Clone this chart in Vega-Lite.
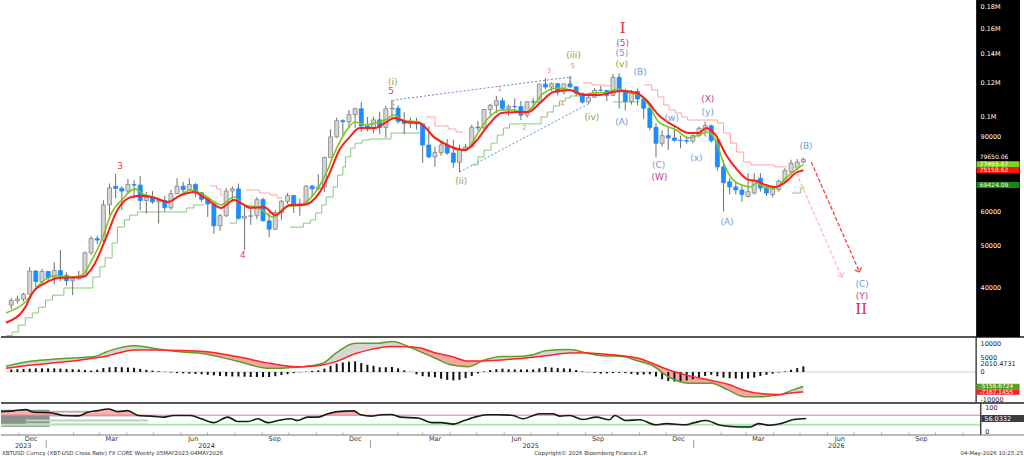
{
  "$schema": "https://vega.github.io/schema/vega-lite/v6.json",
  "padding": {"left": -3, "top": 0, "right": 0, "bottom": 0},
  "background": "white",
  "bounds": "flush",
  "spacing": 0,
  "config": {
    "view": {"stroke": null},
    "font": "DejaVu Sans",
    "axis": {"disable": true},
    "legend": {"disable": true}
  },
  "datasets": {
    "bars": [
      {"d":"2023-11-17","o":36500,"h":37900,"l":35700,"c":37400},
      {"d":"2023-11-24","o":37400,"h":38400,"l":36800,"c":37700},
      {"d":"2023-12-01","o":37700,"h":39000,"l":37200,"c":38700},
      {"d":"2023-12-08","o":38700,"h":44700,"l":38600,"c":43800},
      {"d":"2023-12-15","o":43800,"h":44000,"l":40200,"c":41400},
      {"d":"2023-12-22","o":41400,"h":44300,"l":40500,"c":43700},
      {"d":"2023-12-29","o":43700,"h":43800,"l":41500,"c":42200},
      {"d":"2024-01-05","o":42200,"h":45900,"l":40800,"c":43900},
      {"d":"2024-01-12","o":43900,"h":49000,"l":41500,"c":42800},
      {"d":"2024-01-19","o":42800,"h":43500,"l":40500,"c":41600},
      {"d":"2024-01-26","o":41600,"h":42200,"l":38500,"c":42000},
      {"d":"2024-02-02","o":42000,"h":43850,"l":41800,"c":42600},
      {"d":"2024-02-09","o":42600,"h":48600,"l":42250,"c":48300},
      {"d":"2024-02-16","o":48300,"h":52800,"l":47700,"c":52100},
      {"d":"2024-02-23","o":52100,"h":52900,"l":50600,"c":51700},
      {"d":"2024-03-01","o":51700,"h":64000,"l":50900,"c":62400},
      {"d":"2024-03-08","o":62400,"h":70000,"l":59000,"c":68400},
      {"d":"2024-03-15","o":68900,"h":73750,"l":64600,"c":68200},
      {"d":"2024-03-22","o":68200,"h":68900,"l":60800,"c":67200},
      {"d":"2024-03-29","o":67200,"h":71700,"l":66500,"c":69600},
      {"d":"2024-04-05","o":69600,"h":71300,"l":64500,"c":69400},
      {"d":"2024-04-12","o":69400,"h":72800,"l":60700,"c":63900},
      {"d":"2024-04-19","o":63900,"h":66900,"l":59600,"c":64900},
      {"d":"2024-04-26","o":64900,"h":67200,"l":62800,"c":63400},
      {"d":"2024-05-03","o":63400,"h":64500,"l":56500,"c":63900},
      {"d":"2024-05-10","o":63900,"h":65500,"l":60200,"c":61500},
      {"d":"2024-05-17","o":61500,"h":67700,"l":60700,"c":66300},
      {"d":"2024-05-24","o":66300,"h":71950,"l":66100,"c":69000},
      {"d":"2024-05-31","o":69000,"h":70600,"l":66600,"c":67700},
      {"d":"2024-06-07","o":67700,"h":71950,"l":67500,"c":69600},
      {"d":"2024-06-14","o":69600,"h":70200,"l":65100,"c":66600},
      {"d":"2024-06-21","o":66600,"h":66900,"l":63400,"c":64300},
      {"d":"2024-06-28","o":64300,"h":64500,"l":58500,"c":62700},
      {"d":"2024-07-05","o":62700,"h":63800,"l":53500,"c":55800},
      {"d":"2024-07-12","o":55800,"h":59500,"l":54300,"c":58900},
      {"d":"2024-07-19","o":58900,"h":68400,"l":58500,"c":67200},
      {"d":"2024-07-26","o":67200,"h":68900,"l":63500,"c":68000},
      {"d":"2024-08-02","o":68000,"h":70000,"l":57700,"c":58100},
      {"d":"2024-08-09","o":58100,"h":62700,"l":49000,"c":58700},
      {"d":"2024-08-16","o":58700,"h":61800,"l":56100,"c":58900},
      {"d":"2024-08-23","o":58900,"h":65000,"l":57800,"c":64200},
      {"d":"2024-08-30","o":64200,"h":64900,"l":57200,"c":57300},
      {"d":"2024-09-06","o":57300,"h":59800,"l":52500,"c":54800},
      {"d":"2024-09-13","o":54800,"h":60600,"l":54600,"c":59900},
      {"d":"2024-09-20","o":59900,"h":64100,"l":57500,"c":63600},
      {"d":"2024-09-27","o":63600,"h":66500,"l":62700,"c":65600},
      {"d":"2024-10-04","o":65600,"h":65600,"l":59800,"c":62100},
      {"d":"2024-10-11","o":62100,"h":64500,"l":58900,"c":62900},
      {"d":"2024-10-18","o":62900,"h":69400,"l":62400,"c":69000},
      {"d":"2024-10-25","o":69000,"h":69500,"l":65100,"c":68000},
      {"d":"2024-11-01","o":68000,"h":73600,"l":67500,"c":68700},
      {"d":"2024-11-08","o":68700,"h":80800,"l":66800,"c":80400},
      {"d":"2024-11-15","o":80400,"h":93500,"l":80300,"c":89800},
      {"d":"2024-11-22","o":89800,"h":99600,"l":89400,"c":98000},
      {"d":"2024-11-29","o":98000,"h":98700,"l":90800,"c":97400},
      {"d":"2024-12-06","o":97400,"h":103700,"l":94000,"c":101200},
      {"d":"2024-12-13","o":101200,"h":105000,"l":94200,"c":104400},
      {"d":"2024-12-20","o":104400,"h":108300,"l":92200,"c":95200},
      {"d":"2024-12-27","o":95200,"h":99900,"l":92500,"c":93700},
      {"d":"2025-01-03","o":93700,"h":99900,"l":91600,"c":98400},
      {"d":"2025-01-10","o":98400,"h":102700,"l":91200,"c":94500},
      {"d":"2025-01-17","o":94500,"h":106000,"l":89300,"c":104400},
      {"d":"2025-01-24","o":104400,"h":109600,"l":99500,"c":104700},
      {"d":"2025-01-31","o":104700,"h":106400,"l":96500,"c":97600},
      {"d":"2025-02-07","o":97600,"h":102500,"l":91200,"c":96500},
      {"d":"2025-02-14","o":96500,"h":99500,"l":94100,"c":97500},
      {"d":"2025-02-21","o":97500,"h":99500,"l":93400,"c":96300},
      {"d":"2025-02-28","o":96300,"h":96500,"l":78200,"c":86000},
      {"d":"2025-03-07","o":86000,"h":95000,"l":80000,"c":80700},
      {"d":"2025-03-14","o":80700,"h":85300,"l":76600,"c":82600},
      {"d":"2025-03-21","o":82600,"h":87500,"l":81200,"c":86000},
      {"d":"2025-03-28","o":86000,"h":88800,"l":81600,"c":82400},
      {"d":"2025-04-04","o":82400,"h":88500,"l":76200,"c":78400},
      {"d":"2025-04-11","o":78400,"h":86100,"l":74400,"c":83700},
      {"d":"2025-04-18","o":83700,"h":86500,"l":83000,"c":85100},
      {"d":"2025-04-25","o":85100,"h":95800,"l":85000,"c":94600},
      {"d":"2025-05-02","o":94600,"h":97900,"l":92800,"c":94300},
      {"d":"2025-05-09","o":94300,"h":104300,"l":93400,"c":104000},
      {"d":"2025-05-16","o":104000,"h":107100,"l":100700,"c":106400},
      {"d":"2025-05-23","o":106400,"h":111900,"l":102000,"c":109000},
      {"d":"2025-05-30","o":109000,"h":110700,"l":103100,"c":104600},
      {"d":"2025-06-06","o":104600,"h":106800,"l":100400,"c":105700},
      {"d":"2025-06-13","o":105700,"h":110500,"l":102700,"c":105600},
      {"d":"2025-06-20","o":105600,"h":108900,"l":98300,"c":100900},
      {"d":"2025-06-27","o":100900,"h":108500,"l":99600,"c":108400},
      {"d":"2025-07-04","o":108400,"h":110500,"l":105100,"c":108200},
      {"d":"2025-07-11","o":108200,"h":119500,"l":107500,"c":119100},
      {"d":"2025-07-18","o":119100,"h":123200,"l":115800,"c":117300},
      {"d":"2025-07-25","o":117300,"h":120200,"l":114700,"c":119400},
      {"d":"2025-08-01","o":119400,"h":119800,"l":112000,"c":114200},
      {"d":"2025-08-08","o":114200,"h":119300,"l":112700,"c":119300},
      {"d":"2025-08-15","o":119300,"h":124500,"l":116800,"c":117400},
      {"d":"2025-08-22","o":117400,"h":117600,"l":111700,"c":113500},
      {"d":"2025-08-29","o":113500,"h":113600,"l":107300,"c":108200},
      {"d":"2025-09-05","o":108200,"h":113300,"l":107300,"c":111100},
      {"d":"2025-09-12","o":111100,"h":116700,"l":110600,"c":115300},
      {"d":"2025-09-19","o":115300,"h":118000,"l":114500,"c":115200},
      {"d":"2025-09-26","o":115200,"h":115400,"l":108700,"c":112200},
      {"d":"2025-10-03","o":112200,"h":125700,"l":111700,"c":123500},
      {"d":"2025-10-10","o":123500,"h":126200,"l":104500,"c":115000},
      {"d":"2025-10-17","o":115000,"h":116000,"l":103500,"c":108600},
      {"d":"2025-10-24","o":108600,"h":115500,"l":106700,"c":114500},
      {"d":"2025-10-31","o":114500,"h":116400,"l":106300,"c":110000},
      {"d":"2025-11-07","o":110000,"h":110600,"l":98900,"c":104700},
      {"d":"2025-11-14","o":104700,"h":107500,"l":93000,"c":94500},
      {"d":"2025-11-21","o":94500,"h":96600,"l":80600,"c":86800},
      {"d":"2025-11-28","o":86800,"h":93000,"l":85300,"c":90400},
      {"d":"2025-12-05","o":90400,"h":94200,"l":83800,"c":89300},
      {"d":"2025-12-12","o":89300,"h":94600,"l":87500,"c":88200},
      {"d":"2025-12-19","o":88200,"h":90400,"l":84500,"c":88100},
      {"d":"2025-12-26","o":88100,"h":90000,"l":86500,"c":87800},
      {"d":"2026-01-02","o":87800,"h":91000,"l":86800,"c":90500},
      {"d":"2026-01-09","o":90500,"h":95000,"l":89500,"c":94000},
      {"d":"2026-01-16","o":93000,"h":97500,"l":90000,"c":95500},
      {"d":"2026-01-23","o":95300,"h":96000,"l":87000,"c":88000},
      {"d":"2026-01-30","o":88000,"h":90000,"l":75000,"c":76500},
      {"d":"2026-02-06","o":76500,"h":79000,"l":60300,"c":70300},
      {"d":"2026-02-13","o":70600,"h":72000,"l":66000,"c":68700},
      {"d":"2026-02-20","o":68700,"h":70500,"l":66000,"c":67600},
      {"d":"2026-02-27","o":67600,"h":69500,"l":63500,"c":66000},
      {"d":"2026-03-06","o":65300,"h":74000,"l":65000,"c":67000},
      {"d":"2026-03-13","o":66500,"h":74000,"l":66000,"c":71300},
      {"d":"2026-03-20","o":72000,"h":74000,"l":67000,"c":68300},
      {"d":"2026-03-27","o":68300,"h":69500,"l":65500,"c":66500},
      {"d":"2026-04-03","o":66000,"h":69000,"l":65000,"c":68000},
      {"d":"2026-04-10","o":67800,"h":71500,"l":67000,"c":70800},
      {"d":"2026-04-17","o":70800,"h":76000,"l":70000,"c":75000},
      {"d":"2026-04-24","o":74500,"h":79500,"l":73500,"c":78000},
      {"d":"2026-05-01","o":76000,"h":79800,"l":75000,"c":78500},
      {"d":"2026-05-08","o":78500,"h":80500,"l":78000,"c":79650}
    ],
    "ma": [
      {"d":"2023-11-11","v":35000,"k":"f"},{"d":"2023-12-03","v":37100,"k":"f"},{"d":"2023-12-18","v":40600,"k":"f"},
      {"d":"2024-01-06","v":42700,"k":"f"},{"d":"2024-01-26","v":42400,"k":"f"},{"d":"2024-02-06","v":42900,"k":"f"},
      {"d":"2024-02-17","v":46500,"k":"f"},{"d":"2024-02-28","v":51700,"k":"f"},{"d":"2024-03-11","v":60100,"k":"f"},
      {"d":"2024-03-22","v":64100,"k":"f"},{"d":"2024-04-06","v":68000,"k":"f"},{"d":"2024-04-17","v":65800,"k":"f"},
      {"d":"2024-04-28","v":65100,"k":"f"},{"d":"2024-05-13","v":63400,"k":"f"},{"d":"2024-05-24","v":65100,"k":"f"},
      {"d":"2024-06-09","v":67600,"k":"f"},{"d":"2024-06-24","v":65800,"k":"f"},{"d":"2024-07-13","v":62400,"k":"f"},
      {"d":"2024-07-28","v":65100,"k":"f"},{"d":"2024-08-08","v":62400,"k":"f"},{"d":"2024-08-23","v":61700,"k":"f"},
      {"d":"2024-09-11","v":58500,"k":"f"},{"d":"2024-09-25","v":61700,"k":"f"},{"d":"2024-10-11","v":62400,"k":"f"},
      {"d":"2024-10-29","v":66900,"k":"f"},{"d":"2024-11-10","v":74000,"k":"f"},{"d":"2024-11-21","v":83700,"k":"f"},
      {"d":"2024-12-02","v":92200,"k":"f"},{"d":"2024-12-13","v":97300,"k":"f"},{"d":"2024-12-25","v":95700,"k":"f"},
      {"d":"2025-01-05","v":96800,"k":"f"},{"d":"2025-01-16","v":98300,"k":"f"},{"d":"2025-01-26","v":101000,"k":"f"},
      {"d":"2025-02-06","v":98000,"k":"f"},{"d":"2025-02-24","v":97300,"k":"f"},{"d":"2025-03-11","v":90700,"k":"f"},
      {"d":"2025-03-25","v":86900,"k":"f"},{"d":"2025-04-10","v":83700,"k":"f"},{"d":"2025-04-21","v":84600,"k":"f"},
      {"d":"2025-05-02","v":91700,"k":"f"},{"d":"2025-05-14","v":99400,"k":"f"},{"d":"2025-05-29","v":103700,"k":"f"},
      {"d":"2025-06-12","v":103700,"k":"f"},{"d":"2025-06-24","v":102100,"k":"f"},{"d":"2025-07-05","v":106500,"k":"f"},
      {"d":"2025-07-16","v":113600,"k":"f"},{"d":"2025-08-01","v":116700,"k":"f"},{"d":"2025-08-15","v":115500,"k":"f"},
      {"d":"2025-08-27","v":112400,"k":"f"},{"d":"2025-09-10","v":113600,"k":"f"},{"d":"2025-09-26","v":113900,"k":"f"},
      {"d":"2025-10-09","v":116000,"k":"f"},{"d":"2025-10-22","v":113600,"k":"f"},{"d":"2025-11-02","v":112400,"k":"f"},
      {"d":"2025-11-13","v":106500,"k":"f"},{"d":"2025-11-24","v":97300,"k":"f"},{"d":"2025-12-14","v":93200,"k":"f"},
      {"d":"2025-12-28","v":89300,"k":"f"},{"d":"2026-01-09","v":90700,"k":"f"},{"d":"2026-01-18","v":92200,"k":"f"},
      {"d":"2026-01-28","v":88300,"k":"f"},{"d":"2026-02-06","v":78100,"k":"f"},{"d":"2026-02-15","v":72100,"k":"f"},
      {"d":"2026-02-27","v":69400,"k":"f"},{"d":"2026-03-09","v":68700,"k":"f"},{"d":"2026-03-16","v":70200,"k":"f"},
      {"d":"2026-03-27","v":68300,"k":"f"},{"d":"2026-04-06","v":68300,"k":"f"},{"d":"2026-04-18","v":72100,"k":"f"},
      {"d":"2026-04-29","v":75200,"k":"f"},{"d":"2026-05-08","v":77500,"k":"f"},
      {"d":"2023-11-11","v":33200,"k":"s"},{"d":"2023-12-03","v":36100,"k":"s"},{"d":"2023-12-11","v":38900,"k":"s"},
      {"d":"2023-12-26","v":41100,"k":"s"},{"d":"2024-01-10","v":42200,"k":"s"},{"d":"2024-02-06","v":42400,"k":"s"},
      {"d":"2024-02-20","v":45500,"k":"s"},{"d":"2024-03-03","v":51700,"k":"s"},{"d":"2024-03-17","v":60700,"k":"s"},
      {"d":"2024-04-02","v":65100,"k":"s"},{"d":"2024-04-14","v":65500,"k":"s"},{"d":"2024-04-28","v":64800,"k":"s"},
      {"d":"2024-05-13","v":63400,"k":"s"},{"d":"2024-05-29","v":65800,"k":"s"},{"d":"2024-06-12","v":66900,"k":"s"},
      {"d":"2024-06-26","v":64600,"k":"s"},{"d":"2024-07-13","v":61400,"k":"s"},{"d":"2024-07-28","v":64100,"k":"s"},
      {"d":"2024-08-16","v":61400,"k":"s"},{"d":"2024-08-31","v":61700,"k":"s"},{"d":"2024-09-13","v":59100,"k":"s"},
      {"d":"2024-09-30","v":62400,"k":"s"},{"d":"2024-10-15","v":62400,"k":"s"},{"d":"2024-11-03","v":66900,"k":"s"},
      {"d":"2024-11-14","v":74000,"k":"s"},{"d":"2024-11-25","v":83700,"k":"s"},{"d":"2024-12-07","v":89800,"k":"s"},
      {"d":"2024-12-18","v":94200,"k":"s"},{"d":"2025-01-05","v":94200,"k":"s"},{"d":"2025-01-16","v":96800,"k":"s"},
      {"d":"2025-01-27","v":99400,"k":"s"},{"d":"2025-02-10","v":97300,"k":"s"},{"d":"2025-02-24","v":96800,"k":"s"},
      {"d":"2025-03-14","v":89300,"k":"s"},{"d":"2025-04-02","v":85100,"k":"s"},{"d":"2025-04-17","v":83700,"k":"s"},
      {"d":"2025-04-28","v":86900,"k":"s"},{"d":"2025-05-14","v":95700,"k":"s"},{"d":"2025-05-29","v":102100,"k":"s"},
      {"d":"2025-06-17","v":102600,"k":"s"},{"d":"2025-06-28","v":102600,"k":"s"},{"d":"2025-07-13","v":108300,"k":"s"},
      {"d":"2025-07-27","v":114200,"k":"s"},{"d":"2025-08-15","v":115500,"k":"s"},{"d":"2025-08-30","v":112400,"k":"s"},
      {"d":"2025-09-18","v":112400,"k":"s"},{"d":"2025-10-03","v":114200,"k":"s"},{"d":"2025-10-14","v":114800,"k":"s"},
      {"d":"2025-10-30","v":113600,"k":"s"},{"d":"2025-11-10","v":109400,"k":"s"},{"d":"2025-11-24","v":101000,"k":"s"},
      {"d":"2025-12-14","v":94700,"k":"s"},{"d":"2025-12-28","v":91700,"k":"s"},{"d":"2026-01-09","v":91700,"k":"s"},
      {"d":"2026-01-17","v":94200,"k":"s"},{"d":"2026-01-28","v":90700,"k":"s"},{"d":"2026-02-09","v":81500,"k":"s"},
      {"d":"2026-02-20","v":76000,"k":"s"},{"d":"2026-03-07","v":71300,"k":"s"},{"d":"2026-03-16","v":70900,"k":"s"},
      {"d":"2026-03-26","v":69400,"k":"s"},{"d":"2026-04-06","v":68700,"k":"s"},{"d":"2026-04-18","v":70600,"k":"s"},
      {"d":"2026-04-29","v":74000,"k":"s"},{"d":"2026-05-08","v":75160,"k":"s"}
    ],
    "steps": [
      {"d":"2023-11-11","v":31000,"s":"g1","k":"g"},{"d":"2023-11-18","v":31600,"s":"g1","k":"g"},{"d":"2023-11-25","v":32800,"s":"g1","k":"g"},
      {"d":"2023-12-03","v":34100,"s":"g1","k":"g"},{"d":"2023-12-11","v":35000,"s":"g1","k":"g"},{"d":"2023-12-18","v":36100,"s":"g1","k":"g"},
      {"d":"2023-12-26","v":37500,"s":"g1","k":"g"},{"d":"2024-01-03","v":38500,"s":"g1","k":"g"},{"d":"2024-01-16","v":40000,"s":"g1","k":"g"},
      {"d":"2024-02-18","v":42400,"s":"g1","k":"g"},{"d":"2024-02-26","v":44800,"s":"g1","k":"g"},{"d":"2024-03-03","v":47000,"s":"g1","k":"g"},
      {"d":"2024-03-11","v":50900,"s":"g1","k":"g"},{"d":"2024-03-17","v":55400,"s":"g1","k":"g"},{"d":"2024-03-25","v":57600,"s":"g1","k":"g"},
      {"d":"2024-03-31","v":59100,"s":"g1","k":"g"},{"d":"2024-04-09","v":60100,"s":"g1","k":"g"},{"d":"2024-06-04","v":61400,"s":"g1","k":"g"},
      {"d":"2024-06-12","v":62400,"s":"g1","k":"g"},{"d":"2024-06-24","v":62400,"s":"g1","k":"g"},
      {"d":"2024-07-23","v":56600,"s":"g2","k":"g"},{"d":"2024-07-31","v":58500,"s":"g2","k":"g"},{"d":"2024-08-08","v":58500,"s":"g2","k":"g"},
      {"d":"2024-09-30","v":55400,"s":"g3","k":"g"},{"d":"2024-10-15","v":56600,"s":"g3","k":"g"},{"d":"2024-10-23","v":57600,"s":"g3","k":"g"},
      {"d":"2024-10-29","v":59800,"s":"g3","k":"g"},{"d":"2024-11-05","v":62400,"s":"g3","k":"g"},{"d":"2024-11-10","v":65100,"s":"g3","k":"g"},
      {"d":"2024-11-18","v":68700,"s":"g3","k":"g"},{"d":"2024-11-23","v":73200,"s":"g3","k":"g"},{"d":"2024-11-29","v":76500,"s":"g3","k":"g"},
      {"d":"2024-12-02","v":80700,"s":"g3","k":"g"},{"d":"2024-12-08","v":84600,"s":"g3","k":"g"},{"d":"2024-12-13","v":86900,"s":"g3","k":"g"},
      {"d":"2024-12-21","v":88300,"s":"g3","k":"g"},{"d":"2024-12-29","v":88800,"s":"g3","k":"g"},{"d":"2025-01-23","v":91700,"s":"g3","k":"g"},
      {"d":"2025-03-02","v":91700,"s":"g3","k":"g"},
      {"d":"2025-04-25","v":77300,"s":"g4","k":"g"},{"d":"2025-05-02","v":80700,"s":"g4","k":"g"},{"d":"2025-05-09","v":83700,"s":"g4","k":"g"},
      {"d":"2025-05-17","v":86900,"s":"g4","k":"g"},{"d":"2025-05-24","v":90700,"s":"g4","k":"g"},{"d":"2025-05-31","v":94200,"s":"g4","k":"g"},
      {"d":"2025-06-07","v":96300,"s":"g4","k":"g"},{"d":"2025-07-13","v":99900,"s":"g4","k":"g"},{"d":"2025-07-20","v":102600,"s":"g4","k":"g"},
      {"d":"2025-07-27","v":106000,"s":"g4","k":"g"},{"d":"2025-08-03","v":108900,"s":"g4","k":"g"},{"d":"2025-08-10","v":110600,"s":"g4","k":"g"},
      {"d":"2025-08-15","v":111800,"s":"g4","k":"g"},{"d":"2025-08-27","v":111800,"s":"g4","k":"g"},
      {"d":"2025-10-03","v":108300,"s":"g5","k":"g"},{"d":"2025-11-02","v":108300,"s":"g5","k":"g"},
      {"d":"2026-04-25","v":66500,"s":"g6","k":"g"},{"d":"2026-05-05","v":68300,"s":"g6","k":"g"},{"d":"2026-05-10","v":68300,"s":"g6","k":"g"},
      {"d":"2024-06-30","v":69100,"s":"p1","k":"p"},{"d":"2024-07-08","v":68000,"s":"p1","k":"p"},{"d":"2024-07-13","v":65800,"s":"p1","k":"p"},
      {"d":"2024-07-15","v":65800,"s":"p1","k":"p"},
      {"d":"2024-08-11","v":67600,"s":"p2","k":"p"},{"d":"2024-08-26","v":66500,"s":"p2","k":"p"},{"d":"2024-09-07","v":65800,"s":"p2","k":"p"},
      {"d":"2024-09-15","v":64800,"s":"p2","k":"p"},{"d":"2024-09-21","v":64800,"s":"p2","k":"p"},
      {"d":"2025-03-04","v":99900,"s":"p3","k":"p"},{"d":"2025-03-14","v":95200,"s":"p3","k":"p"},{"d":"2025-03-29","v":93700,"s":"p3","k":"p"},
      {"d":"2025-04-07","v":92200,"s":"p3","k":"p"},{"d":"2025-04-15","v":92200,"s":"p3","k":"p"},
      {"d":"2025-08-30","v":119900,"s":"p4","k":"p"},{"d":"2025-09-09","v":118600,"s":"p4","k":"p"},{"d":"2025-09-22","v":118000,"s":"p4","k":"p"},
      {"d":"2025-10-03","v":118000,"s":"p4","k":"p"},
      {"d":"2025-11-08","v":118600,"s":"p5","k":"p"},{"d":"2025-11-16","v":115500,"s":"p5","k":"p"},{"d":"2025-11-23","v":111200,"s":"p5","k":"p"},
      {"d":"2025-11-30","v":106500,"s":"p5","k":"p"},{"d":"2025-12-06","v":103700,"s":"p5","k":"p"},{"d":"2025-12-13","v":102100,"s":"p5","k":"p"},
      {"d":"2025-12-20","v":99900,"s":"p5","k":"p"},{"d":"2025-12-27","v":98300,"s":"p5","k":"p"},{"d":"2026-01-30","v":96800,"s":"p5","k":"p"},
      {"d":"2026-02-06","v":91700,"s":"p5","k":"p"},{"d":"2026-02-14","v":86900,"s":"p5","k":"p"},{"d":"2026-02-21","v":82800,"s":"p5","k":"p"},
      {"d":"2026-03-01","v":78500,"s":"p5","k":"p"},{"d":"2026-03-09","v":77300,"s":"p5","k":"p"},{"d":"2026-04-05","v":76500,"s":"p5","k":"p"},
      {"d":"2026-04-19","v":76500,"s":"p5","k":"p"}
    ],
    "trend": [
      {"d":"2025-01-26","v":104000,"s":"u","i":1},{"d":"2025-01-26","v":109400,"s":"u","i":2},
      {"d":"2025-08-16","v":123800,"s":"u","i":3},{"d":"2025-08-16","v":117200,"s":"u","i":4},
      {"d":"2025-04-11","v":74400,"s":"l","i":1},{"d":"2025-09-07","v":107700,"s":"l","i":2}
    ],
    "proj": [
      {"d":"2026-05-17","v":78500,"s":"r"},{"d":"2026-07-11","v":43600,"s":"r"},
      {"d":"2026-04-30","v":74000,"s":"p"},{"d":"2026-06-21","v":42400,"s":"p"}
    ],
    "heads": [
      {"d":"2026-07-11","v":43600,"s":"r"},{"d":"2026-06-21","v":42400,"s":"p"}
    ],
    "waves": [
      {"d":"2024-03-20","v":76900,"t":"3","c":"r"},
      {"d":"2024-08-07","v":47700,"t":"4","c":"r"},
      {"d":"2025-01-23","v":114800,"t":"5","c":"r"},
      {"d":"2025-01-25","v":120500,"t":"(i)","c":"g"},
      {"d":"2025-04-13","v":70900,"t":"(ii)","c":"g"},
      {"d":"2025-05-27","v":116100,"t":"1","c":"p"},
      {"d":"2025-06-24","v":94200,"t":"2","c":"p"},
      {"d":"2025-07-22","v":127800,"t":"3","c":"p"},
      {"d":"2025-08-06","v":107100,"t":"4","c":"p"},
      {"d":"2025-08-18","v":131300,"t":"5","c":"p"},
      {"d":"2025-08-19","v":139200,"t":"(iii)","c":"g"},
      {"d":"2025-09-09","v":99900,"t":"(iv)","c":"g"},
      {"d":"2025-10-13","v":132700,"t":"(v)","c":"g"},
      {"d":"2025-10-13","v":140700,"t":"(5)","c":"b"},
      {"d":"2025-10-14","v":148500,"t":"(5)","c":"m"},
      {"d":"2025-10-14","v":160900,"t":"I","c":"big"},
      {"d":"2025-10-13","v":97300,"t":"(A)","c":"b"},
      {"d":"2025-11-03","v":127100,"t":"(B)","c":"b"},
      {"d":"2025-11-24","v":77300,"t":"(C)","c":"b"},
      {"d":"2025-11-25","v":72500,"t":"(W)","c":"m"},
      {"d":"2025-12-09","v":99400,"t":"(w)","c":"b"},
      {"d":"2026-01-06","v":80200,"t":"(x)","c":"b"},
      {"d":"2026-01-19","v":102600,"t":"(y)","c":"b"},
      {"d":"2026-01-19","v":110000,"t":"(X)","c":"m"},
      {"d":"2026-02-10","v":57000,"t":"(A)","c":"b"},
      {"d":"2026-05-11","v":85500,"t":"(B)","c":"b"},
      {"d":"2026-07-14","v":40800,"t":"(C)","c":"b"},
      {"d":"2026-07-14","v":38400,"t":"(Y)","c":"m"},
      {"d":"2026-07-13","v":35700,"t":"II","c":"big"}
    ],
    "ticksMain": [
      {"v":180000,"t":"0.18M"},{"v":160000,"t":"0.16M"},{"v":140000,"t":"0.14M"},{"v":120000,"t":"0.12M"},
      {"v":100000,"t":"0.1M"},{"v":90000,"t":"90000"},{"v":60000,"t":"60000"},{"v":50000,"t":"50000"},{"v":40000,"t":"40000"}
    ],
    "tagsMain": [
      {"v":77495.67,"t":"77495.67","k":"fast"},
      {"v":75158.62,"t":"75158.62","k":"slow"},
      {"v":69424.09,"t":"69424.09","k":"stop"}
    ],
    "macd": [
      {"d":"2023-11-11","m":2100,"s":1300,"g":"p1","f":"p"},{"d":"2023-12-11","m":3900,"s":2500,"g":"p1","f":"p"},
      {"d":"2024-01-06","m":4600,"s":3300,"g":"p1","f":"p"},{"d":"2024-01-26","m":5000,"s":3900,"g":"p1","f":"p"},
      {"d":"2024-02-20","m":5500,"s":5000,"g":"p1","f":"p"},{"d":"2024-03-03","m":7000,"s":5500,"g":"p1","f":"p"},
      {"d":"2024-03-11","m":7900,"s":6200,"g":"p1","f":"p"},{"d":"2024-04-06","m":9400,"s":7900,"g":"p1","f":"p"},
      {"d":"2024-05-02","m":8200,"s":7900,"g":"p1","f":"p"},{"d":"2024-05-12","m":7800,"s":7800,"g":"p1","f":"p"},
      {"d":"2024-05-12","m":7800,"s":7800,"g":"n1","f":"n"},{"d":"2024-05-24","m":7300,"s":7700,"g":"n1","f":"n"},
      {"d":"2024-06-24","m":6500,"s":7300,"g":"n1","f":"n"},{"d":"2024-07-31","m":3900,"s":5500,"g":"n1","f":"n"},
      {"d":"2024-09-07","m":1300,"s":3100,"g":"n1","f":"n"},{"d":"2024-10-03","m":1600,"s":2000,"g":"n1","f":"n"},
      {"d":"2024-10-15","m":1900,"s":1900,"g":"n1","f":"n"},
      {"d":"2024-10-15","m":1900,"s":1900,"g":"p2","f":"p"},{"d":"2024-11-06","m":3100,"s":2500,"g":"p2","f":"p"},
      {"d":"2024-11-21","m":6700,"s":3700,"g":"p2","f":"p"},{"d":"2024-12-13","m":10300,"s":6500,"g":"p2","f":"p"},
      {"d":"2024-12-29","m":10300,"s":7900,"g":"p2","f":"p"},{"d":"2025-01-09","m":10300,"s":8600,"g":"p2","f":"p"},
      {"d":"2025-01-24","m":10900,"s":9100,"g":"p2","f":"p"},{"d":"2025-02-12","m":9050,"s":9050,"g":"p2","f":"p"},
      {"d":"2025-02-12","m":9050,"s":9050,"g":"n2","f":"n"},{"d":"2025-02-27","m":7000,"s":8500,"g":"n2","f":"n"},
      {"d":"2025-03-14","m":5000,"s":6900,"g":"n2","f":"n"},{"d":"2025-04-02","m":2500,"s":5500,"g":"n2","f":"n"},
      {"d":"2025-04-21","m":1900,"s":3900,"g":"n2","f":"n"},{"d":"2025-05-06","m":3900,"s":3900,"g":"n2","f":"n"},
      {"d":"2025-05-06","m":3900,"s":3900,"g":"p3","f":"p"},{"d":"2025-05-29","m":5500,"s":4300,"g":"p3","f":"p"},
      {"d":"2025-06-11","m":5500,"s":4600,"g":"p3","f":"p"},{"d":"2025-07-04","m":6200,"s":5300,"g":"p3","f":"p"},
      {"d":"2025-07-18","m":7600,"s":5800,"g":"p3","f":"p"},{"d":"2025-08-14","m":8000,"s":6800,"g":"p3","f":"p"},
      {"d":"2025-09-01","m":6900,"s":6900,"g":"p3","f":"p"},
      {"d":"2025-09-01","m":6900,"s":6900,"g":"n3","f":"n"},{"d":"2025-09-18","m":5900,"s":6500,"g":"n3","f":"n"},
      {"d":"2025-10-14","m":5500,"s":5800,"g":"n3","f":"n"},{"d":"2025-11-01","m":3900,"s":4900,"g":"n3","f":"n"},
      {"d":"2025-11-16","m":2500,"s":3200,"g":"n3","f":"n"},{"d":"2025-12-05","m":-1700,"s":800,"g":"n3","f":"n"},
      {"d":"2025-12-28","m":-4000,"s":-1300,"g":"n3","f":"n"},{"d":"2026-01-23","m":-4000,"s":-3000,"g":"n3","f":"n"},
      {"d":"2026-02-11","m":-6400,"s":-4400,"g":"n3","f":"n"},{"d":"2026-03-01","m":-8800,"s":-6500,"g":"n3","f":"n"},
      {"d":"2026-03-23","m":-8800,"s":-7800,"g":"n3","f":"n"},{"d":"2026-04-09","m":-8200,"s":-8000,"g":"n3","f":"n"},
      {"d":"2026-04-13","m":-8000,"s":-8000,"g":"n3","f":"n"},
      {"d":"2026-04-13","m":-8000,"s":-8000,"g":"p4","f":"p"},{"d":"2026-04-27","m":-6300,"s":-7400,"g":"p4","f":"p"},
      {"d":"2026-05-08","m":-5157,"s":-7167,"g":"p4","f":"p"}
    ],
    "hist": [
      {"d":"2023-11-17","h":900},{"d":"2023-11-24","h":1000},{"d":"2023-12-01","h":1100},{"d":"2023-12-08","h":1200},
      {"d":"2023-12-15","h":1300},{"d":"2023-12-22","h":1300},{"d":"2023-12-29","h":1300},{"d":"2024-01-05","h":1300},
      {"d":"2024-01-12","h":1200},{"d":"2024-01-19","h":1100},{"d":"2024-01-26","h":1000},{"d":"2024-02-02","h":900},
      {"d":"2024-02-09","h":700},{"d":"2024-02-16","h":500},{"d":"2024-02-23","h":800},{"d":"2024-03-01","h":1400},
      {"d":"2024-03-08","h":1700},{"d":"2024-03-15","h":1800},{"d":"2024-03-22","h":1700},{"d":"2024-03-29","h":1600},
      {"d":"2024-04-05","h":1500},{"d":"2024-04-12","h":1100},{"d":"2024-04-19","h":800},{"d":"2024-04-26","h":500},
      {"d":"2024-05-03","h":300},{"d":"2024-05-10","h":100},{"d":"2024-05-17","h":-200},{"d":"2024-05-24","h":-400},
      {"d":"2024-05-31","h":-500},{"d":"2024-06-07","h":-600},{"d":"2024-06-14","h":-700},{"d":"2024-06-21","h":-800},
      {"d":"2024-06-28","h":-1000},{"d":"2024-07-05","h":-1200},{"d":"2024-07-12","h":-1400},{"d":"2024-07-19","h":-1500},
      {"d":"2024-07-26","h":-1600},{"d":"2024-08-02","h":-1600},{"d":"2024-08-09","h":-1700},{"d":"2024-08-16","h":-1800},
      {"d":"2024-08-23","h":-1800},{"d":"2024-08-30","h":-1800},{"d":"2024-09-06","h":-1800},{"d":"2024-09-13","h":-1500},
      {"d":"2024-09-20","h":-1100},{"d":"2024-09-27","h":-800},{"d":"2024-10-04","h":-400},{"d":"2024-10-11","h":-100},
      {"d":"2024-10-18","h":100},{"d":"2024-10-25","h":400},{"d":"2024-11-01","h":600},{"d":"2024-11-08","h":1200},
      {"d":"2024-11-15","h":2200},{"d":"2024-11-22","h":3000},{"d":"2024-11-29","h":3400},{"d":"2024-12-06","h":3700},
      {"d":"2024-12-13","h":3800},{"d":"2024-12-20","h":3200},{"d":"2024-12-27","h":2600},{"d":"2025-01-03","h":2200},
      {"d":"2025-01-10","h":1700},{"d":"2025-01-17","h":1700},{"d":"2025-01-24","h":1800},{"d":"2025-01-31","h":1300},
      {"d":"2025-02-07","h":600},{"d":"2025-02-14","h":50},{"d":"2025-02-21","h":-800},{"d":"2025-02-28","h":-1500},
      {"d":"2025-03-07","h":-1700},{"d":"2025-03-14","h":-1900},{"d":"2025-03-21","h":-2400},{"d":"2025-03-28","h":-2800},
      {"d":"2025-04-04","h":-3000},{"d":"2025-04-11","h":-2800},{"d":"2025-04-18","h":-2200},{"d":"2025-04-25","h":-1400},
      {"d":"2025-05-02","h":-500},{"d":"2025-05-09","h":200},{"d":"2025-05-16","h":700},{"d":"2025-05-23","h":1000},
      {"d":"2025-05-30","h":1200},{"d":"2025-06-06","h":1000},{"d":"2025-06-13","h":900},{"d":"2025-06-20","h":900},
      {"d":"2025-06-27","h":900},{"d":"2025-07-04","h":900},{"d":"2025-07-11","h":1300},{"d":"2025-07-18","h":1800},
      {"d":"2025-07-25","h":1600},{"d":"2025-08-01","h":1400},{"d":"2025-08-08","h":1300},{"d":"2025-08-15","h":1200},
      {"d":"2025-08-22","h":700},{"d":"2025-08-29","h":200},{"d":"2025-09-05","h":-100},{"d":"2025-09-12","h":-400},
      {"d":"2025-09-19","h":-600},{"d":"2025-09-26","h":-500},{"d":"2025-10-03","h":-400},{"d":"2025-10-10","h":-300},
      {"d":"2025-10-17","h":-400},{"d":"2025-10-24","h":-700},{"d":"2025-10-31","h":-1000},{"d":"2025-11-07","h":-900},
      {"d":"2025-11-14","h":-800},{"d":"2025-11-21","h":-1600},{"d":"2025-11-28","h":-2600},{"d":"2025-12-05","h":-3200},
      {"d":"2025-12-12","h":-3400},{"d":"2025-12-19","h":-3300},{"d":"2025-12-26","h":-3000},{"d":"2026-01-02","h":-2600},
      {"d":"2026-01-09","h":-2000},{"d":"2026-01-16","h":-1400},{"d":"2026-01-23","h":-1000},{"d":"2026-01-30","h":-1500},
      {"d":"2026-02-06","h":-2000},{"d":"2026-02-13","h":-2200},{"d":"2026-02-20","h":-2300},{"d":"2026-02-27","h":-2400},
      {"d":"2026-03-06","h":-2300},{"d":"2026-03-13","h":-2000},{"d":"2026-03-20","h":-1400},{"d":"2026-03-27","h":-1000},
      {"d":"2026-04-03","h":-600},{"d":"2026-04-10","h":-200},{"d":"2026-04-17","h":200},{"d":"2026-04-24","h":800},
      {"d":"2026-05-01","h":1400},{"d":"2026-05-08","h":2010}
    ],
    "ticksMacd": [
      {"v":10000,"t":"10000"},{"v":5000,"t":"5000"},{"v":0,"t":"0"},{"v":-10000,"t":"-10000"}
    ],
    "tagsMacd": [
      {"v":-5156.6724,"t":"-5156.6724","k":"m"},
      {"v":-7167.1455,"t":"-7167.1455","k":"s"}
    ],
    "rsi": [
      {"d":"2023-11-11","r":85},{"d":"2023-11-25","r":88},{"d":"2023-12-09","r":93},{"d":"2023-12-18","r":82},
      {"d":"2024-01-06","r":80},{"d":"2024-01-21","r":69},{"d":"2024-02-06","r":67},{"d":"2024-02-17","r":82},
      {"d":"2024-02-28","r":89},{"d":"2024-03-11","r":96},{"d":"2024-03-22","r":85},{"d":"2024-04-02","r":89},
      {"d":"2024-04-14","r":69},{"d":"2024-04-28","r":66},{"d":"2024-05-13","r":62},{"d":"2024-05-24","r":69},
      {"d":"2024-06-12","r":69},{"d":"2024-06-24","r":55},{"d":"2024-07-08","r":39},{"d":"2024-07-24","r":62},
      {"d":"2024-08-04","r":44},{"d":"2024-08-16","r":44},{"d":"2024-08-27","r":55},{"d":"2024-09-07","r":39},
      {"d":"2024-09-19","r":48},{"d":"2024-10-03","r":55},{"d":"2024-10-11","r":48},{"d":"2024-10-22","r":62},
      {"d":"2024-11-03","r":62},{"d":"2024-11-14","r":76},{"d":"2024-11-25","r":85},{"d":"2024-12-13","r":88},
      {"d":"2024-12-21","r":72},{"d":"2025-01-02","r":66},{"d":"2025-01-13","r":72},{"d":"2025-01-24","r":73},
      {"d":"2025-02-04","r":62},{"d":"2025-02-24","r":58},{"d":"2025-03-11","r":39},{"d":"2025-03-22","r":39},
      {"d":"2025-04-05","r":33},{"d":"2025-04-17","r":48},{"d":"2025-05-02","r":65},{"d":"2025-05-14","r":72},
      {"d":"2025-05-25","r":72},{"d":"2025-06-11","r":69},{"d":"2025-06-22","r":55},{"d":"2025-07-04","r":69},
      {"d":"2025-07-11","r":76},{"d":"2025-07-26","r":76},{"d":"2025-08-03","r":66},{"d":"2025-08-14","r":69},
      {"d":"2025-08-29","r":52},{"d":"2025-09-13","r":62},{"d":"2025-09-28","r":51},{"d":"2025-10-04","r":69},
      {"d":"2025-10-16","r":48},{"d":"2025-11-01","r":51},{"d":"2025-11-19","r":30},{"d":"2025-12-01","r":35},
      {"d":"2025-12-23","r":30},{"d":"2026-01-02","r":39},{"d":"2026-01-15","r":48},{"d":"2026-01-31","r":28},
      {"d":"2026-02-22","r":21},{"d":"2026-03-06","r":21},{"d":"2026-03-15","r":35},{"d":"2026-03-28","r":28},
      {"d":"2026-04-09","r":35},{"d":"2026-04-24","r":52},{"d":"2026-05-08","r":56}
    ],
    "rsiZone": [
      {"d":"2023-11-11","r":85,"g":"h1","k":"h"},{"d":"2023-11-25","r":88,"g":"h1","k":"h"},{"d":"2023-12-09","r":93,"g":"h1","k":"h"},
      {"d":"2023-12-18","r":82,"g":"h1","k":"h"},{"d":"2024-01-06","r":80,"g":"h1","k":"h"},{"d":"2024-01-20","r":70,"g":"h1","k":"h"},
      {"d":"2024-02-09","r":70,"g":"h2","k":"h"},{"d":"2024-02-17","r":82,"g":"h2","k":"h"},{"d":"2024-02-28","r":89,"g":"h2","k":"h"},
      {"d":"2024-03-11","r":96,"g":"h2","k":"h"},{"d":"2024-03-22","r":85,"g":"h2","k":"h"},{"d":"2024-04-02","r":89,"g":"h2","k":"h"},
      {"d":"2024-04-12","r":70,"g":"h2","k":"h"},
      {"d":"2024-11-08","r":70,"g":"h3","k":"h"},{"d":"2024-11-14","r":76,"g":"h3","k":"h"},{"d":"2024-11-25","r":85,"g":"h3","k":"h"},
      {"d":"2024-12-13","r":88,"g":"h3","k":"h"},{"d":"2024-12-19","r":70,"g":"h3","k":"h"},
      {"d":"2025-01-07","r":70,"g":"h4","k":"h"},{"d":"2025-01-13","r":72,"g":"h4","k":"h"},{"d":"2025-01-24","r":73,"g":"h4","k":"h"},
      {"d":"2025-01-28","r":70,"g":"h4","k":"h"},
      {"d":"2025-05-09","r":70,"g":"h5","k":"h"},{"d":"2025-05-14","r":72,"g":"h5","k":"h"},{"d":"2025-05-25","r":72,"g":"h5","k":"h"},
      {"d":"2025-06-06","r":70,"g":"h5","k":"h"},
      {"d":"2025-07-07","r":70,"g":"h6","k":"h"},{"d":"2025-07-11","r":76,"g":"h6","k":"h"},{"d":"2025-07-26","r":76,"g":"h6","k":"h"},
      {"d":"2025-07-31","r":70,"g":"h6","k":"h"},
      {"d":"2026-01-28","r":30,"g":"c1","k":"c"},{"d":"2026-01-31","r":28,"g":"c1","k":"c"},{"d":"2026-02-22","r":21,"g":"c1","k":"c"},
      {"d":"2026-03-06","r":21,"g":"c1","k":"c"},{"d":"2026-03-11","r":30,"g":"c1","k":"c"},
      {"d":"2026-03-22","r":30,"g":"c2","k":"c"},{"d":"2026-03-28","r":28,"g":"c2","k":"c"},{"d":"2026-04-03","r":30,"g":"c2","k":"c"}
    ],
    "rsiBlk": [
      {"a":"2023-11-11","b":"2024-01-05","lo":22,"hi":93,"k":"k1"},
      {"a":"2024-01-05","b":"2024-03-01","lo":80,"hi":89,"k":"k2"},
      {"a":"2024-01-05","b":"2024-04-25","lo":63,"hi":72,"k":"k3"},
      {"a":"2023-12-09","b":"2024-04-25","lo":44,"hi":52,"k":"k4"},
      {"a":"2023-12-09","b":"2024-04-25","lo":30,"hi":36,"k":"k5"}
    ],
    "ticksRsi": [
      {"v":100,"t":"100"},{"v":0,"t":"0"}
    ],
    "mticks": [
      {"d":"2023-12-01"},{"d":"2024-02-01"},{"d":"2024-03-01"},{"d":"2024-04-01"},{"d":"2024-05-01"},{"d":"2024-06-01"},
      {"d":"2024-07-01"},{"d":"2024-08-01"},{"d":"2024-09-01"},{"d":"2024-10-01"},{"d":"2024-11-01"},{"d":"2024-12-01"},
      {"d":"2025-02-01"},{"d":"2025-03-01"},{"d":"2025-04-01"},{"d":"2025-05-01"},{"d":"2025-06-01"},{"d":"2025-07-01"},
      {"d":"2025-08-01"},{"d":"2025-09-01"},{"d":"2025-10-01"},{"d":"2025-11-01"},{"d":"2025-12-01"},{"d":"2026-02-01"},
      {"d":"2026-03-01"},{"d":"2026-04-01"},{"d":"2026-05-01"},{"d":"2026-06-01"},{"d":"2026-07-01"},{"d":"2026-08-01"},
      {"d":"2026-09-01"},{"d":"2026-10-01"},{"d":"2026-11-01"}
    ],
    "months": [
      {"d":"2023-12-15","t":"Dec"},{"d":"2024-03-15","t":"Mar"},{"d":"2024-06-15","t":"Jun"},{"d":"2024-09-15","t":"Sep"},
      {"d":"2024-12-15","t":"Dec"},{"d":"2025-03-15","t":"Mar"},{"d":"2025-06-15","t":"Jun"},{"d":"2025-09-15","t":"Sep"},
      {"d":"2025-12-15","t":"Dec"},{"d":"2026-03-15","t":"Mar"},{"d":"2026-06-15","t":"Jun"},{"d":"2026-09-15","t":"Sep"}
    ],
    "years": [
      {"d":"2023-12-06","t":"2023"},{"d":"2024-06-30","t":"2024"},{"d":"2025-07-01","t":"2025"},{"d":"2026-06-11","t":"2026"}
    ],
    "ysep": [
      {"d":"2024-01-01"},{"d":"2025-01-01"},{"d":"2026-01-01"}
    ],
    "foot": [
      {"d":"2023-11-12","t":"XBTUSD Curncy (XBT-USD Cross Rate) FX CORE Weekly 05MAY2023-04MAY2026","a":"l"},
      {"d":"2025-07-05","t":"Copyright© 2026 Bloomberg Finance L.P.","a":"l"},
      {"d":"2027-01-08","t":"04-May-2026 10:25:25","a":"r"}
    ]
  },
  "vconcat": [
    {
      "width": 1024,
      "height": 337,
      "resolve": {"scale": {"color": "independent"}},
      "layer": [
        {
          "data": {"name": "steps"},
          "mark": {"type": "line", "interpolate": "step-after", "strokeWidth": 1, "clip": true},
          "encoding": {
            "x": {"field": "d", "type": "temporal", "axis": null,
                  "scale": {"domain": [1699660800000, 1799539200000], "nice": false}},
            "y": {"field": "v", "type": "quantitative", "axis": null,
                  "scale": {"type": "log", "domain": [30770, 186900], "nice": false, "zero": false}},
            "detail": {"field": "s"},
            "color": {"field": "k", "type": "nominal", "legend": null,
                      "scale": {"domain": ["g", "p"], "range": ["#86c97a", "#ffa3a3"]}}
          }
        },
        {
          "data": {"name": "trend"},
          "mark": {"type": "line", "strokeDash": [2, 2], "strokeWidth": 1, "color": "#5d8fd4"},
          "encoding": {
            "x": {"field": "d", "type": "temporal", "axis": null},
            "y": {"field": "v", "type": "quantitative", "axis": null},
            "detail": {"field": "s"},
            "order": {"field": "i"}
          }
        },
        {
          "data": {"name": "bars"},
          "mark": {"type": "rule", "color": "#6e6e6e", "strokeWidth": 1},
          "encoding": {
            "x": {"field": "d", "type": "temporal", "axis": null},
            "y": {"field": "l", "type": "quantitative", "axis": null},
            "y2": {"field": "h"}
          }
        },
        {
          "data": {"name": "bars"},
          "mark": {"type": "bar", "width": 4, "strokeWidth": 0.8},
          "encoding": {
            "x": {"field": "d", "type": "temporal", "axis": null},
            "y": {"field": "o", "type": "quantitative", "axis": null},
            "y2": {"field": "c"},
            "fill": {"condition": {"test": "datum.c < datum.o", "value": "#1c8cff"}, "value": "#d4d4d4"},
            "stroke": {"condition": {"test": "datum.c < datum.o", "value": "#1c8cff"}, "value": "#858585"}
          }
        },
        {
          "data": {"name": "ma"},
          "transform": [{"filter": "datum.k == 'f'"}],
          "mark": {"type": "line", "interpolate": "monotone", "color": "#80c41c", "strokeWidth": 1.6},
          "encoding": {
            "x": {"field": "d", "type": "temporal", "axis": null},
            "y": {"field": "v", "type": "quantitative", "axis": null}
          }
        },
        {
          "data": {"name": "ma"},
          "transform": [{"filter": "datum.k == 's'"}],
          "mark": {"type": "line", "interpolate": "monotone", "color": "#ff1c1c", "strokeWidth": 2},
          "encoding": {
            "x": {"field": "d", "type": "temporal", "axis": null},
            "y": {"field": "v", "type": "quantitative", "axis": null}
          }
        },
        {
          "data": {"name": "proj"},
          "mark": {"type": "line", "strokeDash": [4, 2], "strokeWidth": 1.3},
          "encoding": {
            "x": {"field": "d", "type": "temporal", "axis": null},
            "y": {"field": "v", "type": "quantitative", "axis": null},
            "detail": {"field": "s"},
            "color": {"field": "s", "type": "nominal", "legend": null,
                      "scale": {"domain": ["r", "p"], "range": ["#f2453d", "#ffb8b8"]}}
          }
        },
        {
          "data": {"name": "heads"},
          "mark": {"type": "point", "shape": "M-1,-1L0,0L1,-1", "size": 50, "angle": 337, "filled": false, "strokeWidth": 1.3, "opacity": 1},
          "encoding": {
            "x": {"field": "d", "type": "temporal", "axis": null},
            "y": {"field": "v", "type": "quantitative", "axis": null},
            "stroke": {"field": "s", "type": "nominal", "legend": null,
                       "scale": {"domain": ["r", "p"], "range": ["#f2453d", "#ffb8b8"]}}
          }
        },
        {
          "data": {"name": "waves"},
          "transform": [{"filter": "datum.c == 'r' || datum.c == 'g' || datum.c == 'b' || datum.c == 'm'"}],
          "mark": {"type": "text", "fontSize": 9, "align": "center", "baseline": "middle"},
          "encoding": {
            "x": {"field": "d", "type": "temporal", "axis": null},
            "y": {"field": "v", "type": "quantitative", "axis": null},
            "text": {"field": "t"},
            "color": {"field": "c", "type": "nominal", "legend": null,
                      "scale": {"domain": ["r", "g", "b", "m"], "range": ["#f23c3c", "#86a832", "#6f9cd3", "#b4468f"]}}
          }
        },
        {
          "data": {"name": "waves"},
          "transform": [{"filter": "datum.c == 'p'"}],
          "mark": {"type": "text", "fontSize": 7, "align": "center", "baseline": "middle", "color": "#f77f7f"},
          "encoding": {
            "x": {"field": "d", "type": "temporal", "axis": null},
            "y": {"field": "v", "type": "quantitative", "axis": null},
            "text": {"field": "t"}
          }
        },
        {
          "data": {"name": "waves"},
          "transform": [{"filter": "datum.c == 'big'"}],
          "mark": {"type": "text", "font": "DejaVu Serif", "fontSize": 15, "align": "center", "baseline": "middle", "color": "#e62b40"},
          "encoding": {
            "x": {"field": "d", "type": "temporal", "axis": null},
            "y": {"field": "v", "type": "quantitative", "axis": null},
            "text": {"field": "t"}
          }
        },
        {
          "data": {"values": [{}]},
          "mark": {"type": "rule", "color": "#555555", "strokeWidth": 2},
          "encoding": {
            "y": {"datum": 30770, "type": "quantitative", "axis": null}
          }
        },
        {
          "data": {"values": [{}]},
          "mark": {"type": "rect", "color": "#000000"},
          "encoding": {
            "x": {"datum": 1795219200000, "type": "temporal", "axis": null},
            "x2": {"datum": 1799539200000},
            "y": {"datum": 30770, "type": "quantitative", "axis": null},
            "y2": {"datum": 186900}
          }
        },
        {
          "data": {"name": "ticksMain"},
          "mark": {"type": "text", "align": "left", "baseline": "middle", "fontSize": 6.5, "color": "#ffffff"},
          "encoding": {
            "x": {"datum": 1795651200000, "type": "temporal", "axis": null},
            "y": {"field": "v", "type": "quantitative", "axis": null},
            "text": {"field": "t"}
          }
        },
        {
          "data": {"values": [{"v": 79650.06, "t": "79650.06"}]},
          "mark": {"type": "text", "align": "left", "baseline": "alphabetic", "fontSize": 6, "color": "#ffffff"},
          "encoding": {
            "x": {"datum": 1795564800000, "type": "temporal", "axis": null},
            "y": {"field": "v", "type": "quantitative", "axis": null},
            "text": {"field": "t"}
          }
        },
        {
          "data": {"name": "tagsMain"},
          "mark": {"type": "point", "shape": "M-1,-0.145H1V0.145H-1Z", "size": 1849, "filled": true, "opacity": 1},
          "encoding": {
            "x": {"datum": 1797379200000, "type": "temporal", "axis": null},
            "y": {"field": "v", "type": "quantitative", "axis": null},
            "color": {"field": "k", "type": "nominal", "legend": null,
                      "scale": {"domain": ["fast", "slow", "stop"], "range": ["#7ed321", "#ff1414", "#138a13"]}}
          }
        },
        {
          "data": {"name": "tagsMain"},
          "mark": {"type": "text", "align": "left", "baseline": "middle", "fontSize": 6, "color": "#ffffff"},
          "encoding": {
            "x": {"datum": 1795564800000, "type": "temporal", "axis": null},
            "y": {"field": "v", "type": "quantitative", "axis": null},
            "text": {"field": "t"}
          }
        }
      ]
    },
    {
      "width": 1024,
      "height": 66,
      "resolve": {"scale": {"color": "independent"}},
      "layer": [
        {
          "data": {"name": "macd"},
          "mark": {"type": "area", "interpolate": "monotone"},
          "encoding": {
            "x": {"field": "d", "type": "temporal", "axis": null,
                  "scale": {"domain": [1699660800000, 1799539200000], "nice": false}},
            "y": {"field": "m", "type": "quantitative", "axis": null,
                  "scale": {"domain": [-11071, 12500], "nice": false, "zero": false}},
            "y2": {"field": "s"},
            "detail": {"field": "g"},
            "color": {"field": "f", "type": "nominal", "legend": null,
                      "scale": {"domain": ["p", "n"], "range": ["#d6d6d6", "#f8a5a5"]}}
          }
        },
        {
          "data": {"values": [{}]},
          "mark": {"type": "rule", "color": "#cfcfcf", "strokeWidth": 1},
          "encoding": {
            "x": {"datum": 1699660800000, "type": "temporal", "axis": null},
            "x2": {"datum": 1795219200000},
            "y": {"datum": 0, "type": "quantitative", "axis": null}
          }
        },
        {
          "data": {"name": "hist"},
          "mark": {"type": "bar", "width": 2, "color": "#111111"},
          "encoding": {
            "x": {"field": "d", "type": "temporal", "axis": null},
            "y": {"field": "h", "type": "quantitative", "axis": null, "stack": null},
            "y2": {"datum": 0}
          }
        },
        {
          "data": {"name": "macd"},
          "mark": {"type": "line", "interpolate": "monotone", "color": "#5f9e22", "strokeWidth": 1.5},
          "encoding": {
            "x": {"field": "d", "type": "temporal", "axis": null},
            "y": {"field": "m", "type": "quantitative", "axis": null},
            "detail": {"field": "g"}
          }
        },
        {
          "data": {"name": "macd"},
          "mark": {"type": "line", "interpolate": "monotone", "color": "#ff2323", "strokeWidth": 1.5},
          "encoding": {
            "x": {"field": "d", "type": "temporal", "axis": null},
            "y": {"field": "s", "type": "quantitative", "axis": null},
            "detail": {"field": "g"}
          }
        },
        {
          "data": {"values": [{}]},
          "mark": {"type": "rule", "color": "#444444", "strokeWidth": 1.5},
          "encoding": {
            "x": {"datum": 1795219200000, "type": "temporal", "axis": null}
          }
        },
        {
          "data": {"name": "ticksMacd"},
          "mark": {"type": "text", "align": "left", "baseline": "middle", "fontSize": 6.5, "color": "#222222"},
          "encoding": {
            "x": {"datum": 1795651200000, "type": "temporal", "axis": null},
            "y": {"field": "v", "type": "quantitative", "axis": null},
            "text": {"field": "t"}
          }
        },
        {
          "data": {"values": [{"v": 2010.4731, "t": "2010.4731"}]},
          "mark": {"type": "text", "align": "left", "baseline": "alphabetic", "fontSize": 6.5, "color": "#222222"},
          "encoding": {
            "x": {"datum": 1795651200000, "type": "temporal", "axis": null},
            "y": {"field": "v", "type": "quantitative", "axis": null},
            "text": {"field": "t"}
          }
        },
        {
          "data": {"name": "tagsMacd"},
          "mark": {"type": "point", "shape": "M-1,-0.13H1V0.13H-1Z", "size": 1849, "filled": true, "opacity": 1},
          "encoding": {
            "x": {"datum": 1797379200000, "type": "temporal", "axis": null},
            "y": {"field": "v", "type": "quantitative", "axis": null},
            "color": {"field": "k", "type": "nominal", "legend": null,
                      "scale": {"domain": ["m", "s"], "range": ["#5a9e1e", "#ff2020"]}}
          }
        },
        {
          "data": {"name": "tagsMacd"},
          "mark": {"type": "text", "align": "left", "baseline": "middle", "fontSize": 5.8, "color": "#ffffff"},
          "encoding": {
            "x": {"datum": 1795564800000, "type": "temporal", "axis": null},
            "y": {"field": "v", "type": "quantitative", "axis": null},
            "text": {"field": "t"}
          }
        },
        {
          "data": {"values": [{}]},
          "mark": {"type": "rule", "color": "#555555", "strokeWidth": 2},
          "encoding": {
            "y": {"datum": -11071, "type": "quantitative", "axis": null}
          }
        }
      ]
    },
    {
      "width": 1024,
      "height": 32,
      "resolve": {"scale": {"color": "independent"}},
      "layer": [
        {
          "data": {"name": "rsiBlk"},
          "mark": {"type": "rect"},
          "encoding": {
            "x": {"field": "a", "type": "temporal", "axis": null,
                  "scale": {"domain": [1699660800000, 1799539200000], "nice": false}},
            "x2": {"field": "b"},
            "y": {"field": "lo", "type": "quantitative", "axis": null,
                  "scale": {"domain": [-12.5, 120.8], "nice": false, "zero": false}},
            "y2": {"field": "hi"},
            "color": {"field": "k", "type": "nominal", "legend": null,
                      "scale": {"domain": ["k1", "k2", "k3", "k4", "k5"], "range": ["#8f8f8f", "#b4b4b4", "#dcdcdc", "#c8c8c8", "#dadada"]}}
          }
        },
        {
          "data": {"name": "rsiZone"},
          "transform": [{"filter": "datum.k == 'h'"}],
          "mark": {"type": "area", "interpolate": "monotone", "color": "#f7b3b3"},
          "encoding": {
            "x": {"field": "d", "type": "temporal", "axis": null},
            "y": {"field": "r", "type": "quantitative", "axis": null},
            "y2": {"datum": 70},
            "detail": {"field": "g"}
          }
        },
        {
          "data": {"name": "rsiZone"},
          "transform": [{"filter": "datum.k == 'c'"}],
          "mark": {"type": "area", "interpolate": "monotone", "color": "#a8eea8"},
          "encoding": {
            "x": {"field": "d", "type": "temporal", "axis": null},
            "y": {"field": "r", "type": "quantitative", "axis": null},
            "y2": {"datum": 30},
            "detail": {"field": "g"}
          }
        },
        {
          "data": {"values": [{}]},
          "mark": {"type": "rule", "color": "#ff7070", "strokeWidth": 1},
          "encoding": {
            "x": {"datum": 1699660800000, "type": "temporal", "axis": null},
            "x2": {"datum": 1795219200000},
            "y": {"datum": 70, "type": "quantitative", "axis": null}
          }
        },
        {
          "data": {"values": [{}]},
          "mark": {"type": "rule", "color": "#a6f0a6", "strokeWidth": 2},
          "encoding": {
            "x": {"datum": 1699660800000, "type": "temporal", "axis": null},
            "x2": {"datum": 1795219200000},
            "y": {"datum": 30, "type": "quantitative", "axis": null}
          }
        },
        {
          "data": {"name": "rsi"},
          "mark": {"type": "line", "interpolate": "monotone", "color": "#1a1a1a", "strokeWidth": 1.6},
          "encoding": {
            "x": {"field": "d", "type": "temporal", "axis": null},
            "y": {"field": "r", "type": "quantitative", "axis": null}
          }
        },
        {
          "data": {"name": "mticks"},
          "mark": {"type": "rule", "color": "#aaaaaa", "strokeWidth": 1},
          "encoding": {
            "x": {"field": "d", "type": "temporal", "axis": null},
            "y": {"datum": -12.5, "type": "quantitative", "axis": null},
            "y2": {"datum": -2}
          }
        },
        {
          "data": {"values": [{}]},
          "mark": {"type": "rule", "color": "#444444", "strokeWidth": 1.5},
          "encoding": {
            "x": {"datum": 1795219200000, "type": "temporal", "axis": null}
          }
        },
        {
          "data": {"name": "ticksRsi"},
          "mark": {"type": "text", "align": "left", "baseline": "middle", "fontSize": 6.5, "color": "#222222"},
          "encoding": {
            "x": {"datum": 1795651200000, "type": "temporal", "axis": null},
            "y": {"field": "v", "type": "quantitative", "axis": null},
            "text": {"field": "t"}
          }
        },
        {
          "data": {"values": [{"v": 56.0332, "t": "56.0332"}]},
          "mark": {"type": "point", "shape": "M-1,-0.16H1V0.16H-1Z", "size": 1849, "filled": true, "opacity": 1, "color": "#3c3c3c"},
          "encoding": {
            "x": {"datum": 1797379200000, "type": "temporal", "axis": null},
            "y": {"field": "v", "type": "quantitative", "axis": null}
          }
        },
        {
          "data": {"values": [{"v": 56.0332, "t": "56.0332"}]},
          "mark": {"type": "text", "align": "left", "baseline": "middle", "fontSize": 6.5, "color": "#ffffff"},
          "encoding": {
            "x": {"datum": 1795564800000, "type": "temporal", "axis": null},
            "y": {"field": "v", "type": "quantitative", "axis": null},
            "text": {"field": "t"}
          }
        },
        {
          "data": {"values": [{}]},
          "mark": {"type": "rule", "color": "#777777", "strokeWidth": 1},
          "encoding": {
            "y": {"datum": -12.5, "type": "quantitative", "axis": null}
          }
        }
      ]
    },
    {
      "width": 1024,
      "height": 21,
      "layer": [
        {
          "data": {"name": "months"},
          "mark": {"type": "text", "fontSize": 6.5, "color": "#333333", "baseline": "middle"},
          "encoding": {
            "x": {"field": "d", "type": "temporal", "axis": null,
                  "scale": {"domain": [1699660800000, 1799539200000], "nice": false}},
            "y": {"datum": 3.5, "type": "quantitative", "axis": null,
                  "scale": {"domain": [0, 21], "reverse": true, "nice": false, "zero": false}},
            "text": {"field": "t"}
          }
        },
        {
          "data": {"name": "years"},
          "mark": {"type": "text", "fontSize": 6.5, "color": "#333333", "baseline": "middle"},
          "encoding": {
            "x": {"field": "d", "type": "temporal", "axis": null},
            "y": {"datum": 10.5, "type": "quantitative", "axis": null},
            "text": {"field": "t"}
          }
        },
        {
          "data": {"name": "ysep"},
          "mark": {"type": "rule", "color": "#9a9a9a", "strokeWidth": 1},
          "encoding": {
            "x": {"field": "d", "type": "temporal", "axis": null},
            "y": {"datum": 5, "type": "quantitative", "axis": null},
            "y2": {"datum": 13}
          }
        },
        {
          "data": {"name": "foot"},
          "transform": [{"filter": "datum.a == 'l'"}],
          "mark": {"type": "text", "fontSize": 5.5, "color": "#333333", "align": "left", "baseline": "middle"},
          "encoding": {
            "x": {"field": "d", "type": "temporal", "axis": null},
            "y": {"datum": 17.5, "type": "quantitative", "axis": null},
            "text": {"field": "t"}
          }
        },
        {
          "data": {"name": "foot"},
          "transform": [{"filter": "datum.a == 'r'"}],
          "mark": {"type": "text", "fontSize": 5.5, "color": "#333333", "align": "right", "baseline": "middle"},
          "encoding": {
            "x": {"field": "d", "type": "temporal", "axis": null},
            "y": {"datum": 17.5, "type": "quantitative", "axis": null},
            "text": {"field": "t"}
          }
        }
      ]
    }
  ]
}
